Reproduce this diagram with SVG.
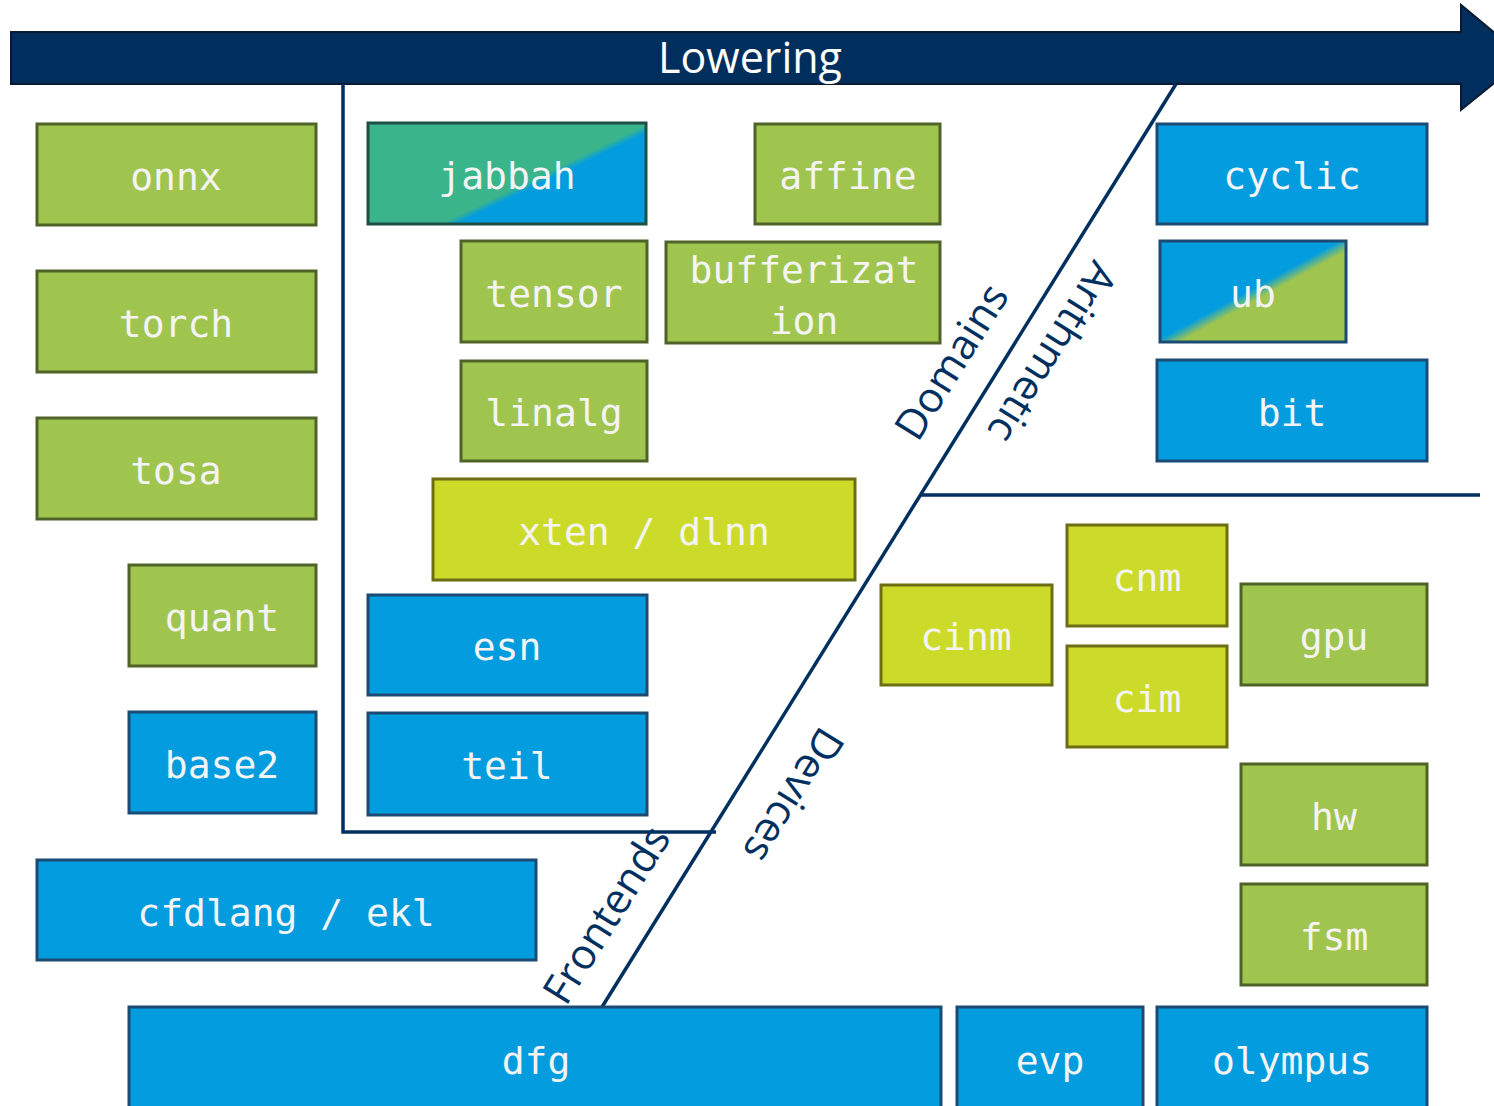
<svg xmlns="http://www.w3.org/2000/svg" width="1494" height="1106" viewBox="0 0 1494 1106">
  <style>
    .box { stroke-width: 3; }
    .g { fill: #A0C54F; stroke: #4F6228; }
    .b { fill: #039DDF; stroke: #1B4A72; }
    .y { fill: #CCDB2A; stroke: #6B6E12; }
    .lbl { font-family: "DejaVu Sans Mono", "Liberation Mono", monospace; font-size: 38px; fill: #F4F4F4; text-anchor: middle; }
    .sep { stroke: #003060; stroke-width: 3.5; fill: none; }
    .zone { font-family: "Open Sans", "Noto Sans", sans-serif; font-size: 42px; fill: #003060; text-anchor: middle; }
  </style>
  <defs>
    <linearGradient id="gradJabbah" gradientUnits="userSpaceOnUse" x1="522" y1="122" x2="574" y2="230">
      <stop offset="0.47" stop-color="#3AB48A"/>
      <stop offset="0.53" stop-color="#039DDF"/>
    </linearGradient>
    <linearGradient id="gradUb" gradientUnits="userSpaceOnUse" x1="1233" y1="249" x2="1281" y2="337">
      <stop offset="0.44" stop-color="#039DDF"/>
      <stop offset="0.56" stop-color="#A0C54F"/>
    </linearGradient>
  </defs>

  <!-- lowering arrow -->
  <g id="lowering">
    <path d="M11 32 H1461 V5 L1525 58 L1461 110 V84 H11 Z" fill="#002F5E" stroke="#0A1A30" stroke-width="2"/>
    <text x="750" y="73" font-family="'Open Sans', 'Noto Sans', sans-serif" font-size="43" fill="#FFFFFF" text-anchor="middle">Lowering</text>
  </g>

  <!-- region separators -->
  <g id="connectors">
    <polyline class="sep" points="343,84 343,832 716,832"/>
    <line class="sep" x1="1176" y1="84" x2="602" y2="1007"/>
    <line class="sep" x1="920" y1="495" x2="1480" y2="495"/>
  </g>

  <!-- region labels -->
  <g id="zone-labels">
    <text class="zone" transform="translate(952,362) rotate(-58)" dy="14">Domains</text>
    <text class="zone" transform="translate(1052,352) rotate(122)" dy="14">Arithmetic</text>
    <text class="zone" transform="translate(793,795) rotate(122)" dy="14">Devices</text>
    <text class="zone" transform="translate(607,915) rotate(-58)" dy="14">Frontends</text>
  </g>

  <!-- frontends -->
  <g id="onnx"><rect class="box g" x="37" y="124" width="279" height="101"/><text class="lbl" x="176" y="190">onnx</text></g>
  <g id="torch"><rect class="box g" x="37" y="271" width="279" height="101"/><text class="lbl" x="176" y="337">torch</text></g>
  <g id="tosa"><rect class="box g" x="37" y="418" width="279" height="101"/><text class="lbl" x="176" y="484">tosa</text></g>
  <g id="quant"><rect class="box g" x="129" y="565" width="187" height="101"/><text class="lbl" x="222" y="631">quant</text></g>
  <g id="base2"><rect class="box b" x="129" y="712" width="187" height="101"/><text class="lbl" x="222" y="778">base2</text></g>
  <g id="cfdlang-ekl"><rect class="box b" x="37" y="860" width="499" height="100"/><text class="lbl" x="286" y="926">cfdlang / ekl</text></g>

  <!-- domains -->
  <g id="jabbah"><rect class="box" x="368" y="123" width="278" height="101" fill="url(#gradJabbah)" stroke="#1D4F45"/><text class="lbl" x="507" y="189">jabbah</text></g>
  <g id="affine"><rect class="box g" x="755" y="124" width="185" height="100"/><text class="lbl" x="848" y="189">affine</text></g>
  <g id="tensor"><rect class="box g" x="461" y="241" width="186" height="101"/><text class="lbl" x="554" y="307">tensor</text></g>
  <g id="bufferization"><rect class="box g" x="666" y="242" width="274" height="101"/><text class="lbl" x="804" y="283">bufferizat</text><text class="lbl" x="804" y="334">ion</text></g>
  <g id="linalg"><rect class="box g" x="461" y="361" width="186" height="100"/><text class="lbl" x="554" y="426">linalg</text></g>
  <g id="xten-dlnn"><rect class="box y" x="433" y="479" width="422" height="101"/><text class="lbl" x="644" y="545">xten / dlnn</text></g>
  <g id="esn"><rect class="box b" x="368" y="595" width="279" height="100"/><text class="lbl" x="507" y="660">esn</text></g>
  <g id="teil"><rect class="box b" x="368" y="713" width="279" height="102"/><text class="lbl" x="507" y="779">teil</text></g>

  <!-- arithmetic -->
  <g id="cyclic"><rect class="box b" x="1157" y="124" width="270" height="100"/><text class="lbl" x="1292" y="189">cyclic</text></g>
  <g id="ub"><rect class="box" x="1160" y="241" width="186" height="101" fill="url(#gradUb)" stroke="#1B4A72"/><text class="lbl" x="1253" y="307">ub</text></g>
  <g id="bit"><rect class="box b" x="1157" y="360" width="270" height="101"/><text class="lbl" x="1292" y="426">bit</text></g>

  <!-- devices -->
  <g id="cinm"><rect class="box y" x="881" y="585" width="171" height="100"/><text class="lbl" x="966" y="650">cinm</text></g>
  <g id="cnm"><rect class="box y" x="1067" y="525" width="160" height="101"/><text class="lbl" x="1147" y="591">cnm</text></g>
  <g id="cim"><rect class="box y" x="1067" y="646" width="160" height="101"/><text class="lbl" x="1147" y="712">cim</text></g>
  <g id="gpu"><rect class="box g" x="1241" y="584" width="186" height="101"/><text class="lbl" x="1334" y="650">gpu</text></g>
  <g id="hw"><rect class="box g" x="1241" y="764" width="186" height="101"/><text class="lbl" x="1334" y="830">hw</text></g>
  <g id="fsm"><rect class="box g" x="1241" y="884" width="186" height="101"/><text class="lbl" x="1334" y="950">fsm</text></g>

  <!-- bottom row -->
  <g id="dfg"><rect class="box b" x="129" y="1007" width="812" height="110"/><text class="lbl" x="536" y="1074">dfg</text></g>
  <g id="evp"><rect class="box b" x="957" y="1007" width="186" height="110"/><text class="lbl" x="1050" y="1074">evp</text></g>
  <g id="olympus"><rect class="box b" x="1157" y="1007" width="270" height="110"/><text class="lbl" x="1292" y="1074">olympus</text></g>
</svg>
